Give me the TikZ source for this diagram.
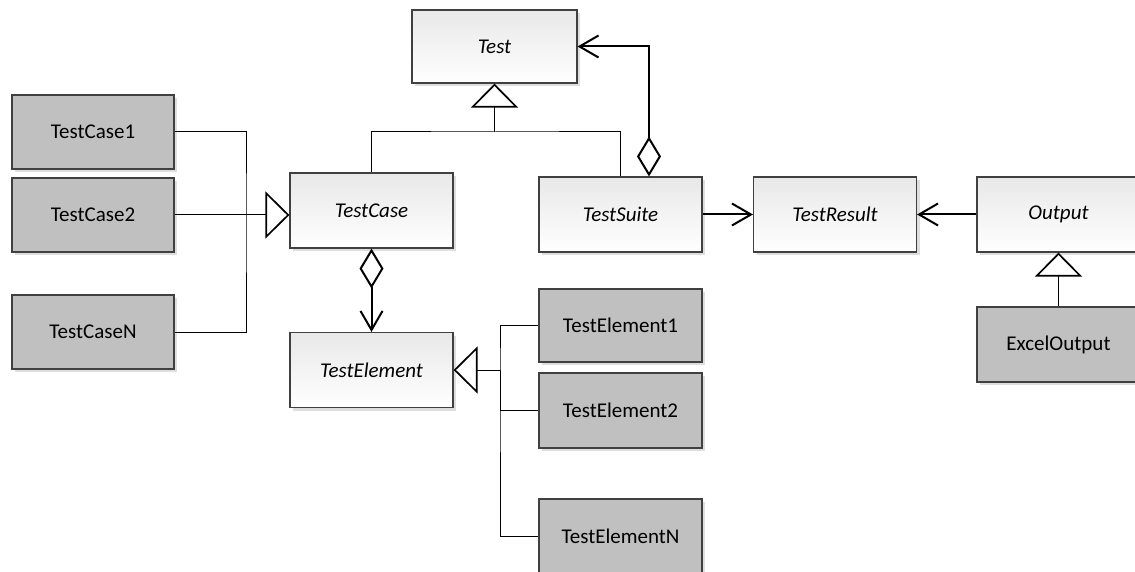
\documentclass[tikz,border=0pt]{standalone}
\usepackage{fontspec}
\setmainfont{Carlito}
\usetikzlibrary{arrows.meta,shadows}
\definecolor{boxgray}{HTML}{C0C0C0}
\definecolor{edgegray}{HTML}{404040}
\begin{document}
\begin{tikzpicture}[x=1pt,y=-1pt,
  basebox/.style={draw=edgegray, line width=1.1pt, inner sep=0pt,
    minimum width=163pt, minimum height=75pt,
    drop shadow={shadow xshift=3pt, shadow yshift=-3pt, fill=black!13, opacity=1}},
  abstr/.style={basebox, top color=black!9, bottom color=white,
    font=\fontsize{21}{25}\selectfont\itshape},
  concr/.style={basebox, fill=boxgray, font=\fontsize{21}{25}\selectfont},
  gen/.style={line width=1pt, black},
  genarrow/.style={gen, -{Triangle[open, length=24pt, width=47pt, line width=1.7pt]}},
  assoc/.style={line width=2pt, black, -{Straight Barb[length=19pt, width=22pt]}},
  aggr/.style={line width=2pt, black,
    {Diamond[open, length=40pt, width=24pt]}-{Straight Barb[length=19pt, width=22pt]}}
]
\useasboundingbox (0,0) rectangle (1135,572);

% abstract classes
\node[abstr, minimum width=165pt, minimum height=73pt] (test) at (494.5,46.5) {Test};
\node[abstr] (tc)  at (371.5,210.5) {TestCase};
\node[abstr] (ts)  at (620.5,214.5) {TestSuite};
\node[abstr] (tr)  at (835,214.5) {TestResult};
\node[abstr] (out) at (1058.5,214.5) {Output};
\node[abstr] (te)  at (371.5,370) {TestElement};

% concrete classes
\node[concr, minimum width=162pt, minimum height=74pt] (tc1) at (93,132) {TestCase1};
\node[concr, minimum width=162pt, minimum height=74pt] (tc2) at (93,215) {TestCase2};
\node[concr, minimum width=162pt, minimum height=74pt] (tcN) at (93,332) {TestCaseN};
\node[concr] (xo)  at (1058.5,344.5) {ExcelOutput};
\node[concr, minimum height=73pt] (te1) at (620.5,325.5) {TestElement1};
\node[concr] (te2) at (620.5,410.5) {TestElement2};
\node[concr] (teN) at (620.5,536.5) {TestElementN};

% inheritance: TestCase, TestSuite -> Test
\coordinate (jT) at (494.5,132);
\draw[gen] (tc.north) |- (jT) -| (ts.north);
\draw[genarrow] (jT) -- (test.south);

% inheritance: TestCase1..N -> TestCase
\coordinate (jL) at (246,214);
\draw[gen] (tc1.east) -| (jL) |- (tcN.east);
\draw[genarrow] (tc2.east) -- (tc2.east -| tc.west);

% inheritance: TestElement1..N -> TestElement
\coordinate (jR) at (500,370);
\draw[gen] (te1.west) -| (jR) |- (teN.west);
\draw[gen] (te2.west) -| (jR);
\draw[genarrow] (jR) -- (te.east);

% inheritance: ExcelOutput -> Output
\draw[genarrow] (xo.north) -- (out.south);

% associations
\draw[assoc] (ts.east) -- (tr.west);
\draw[assoc] (out.west) -- (tr.east);

% aggregations
\draw[aggr] ([xshift=28.5pt]ts.north) |- (test.east);
\draw[aggr] (tc.south) -- (te.north);
\end{tikzpicture}
\end{document}
